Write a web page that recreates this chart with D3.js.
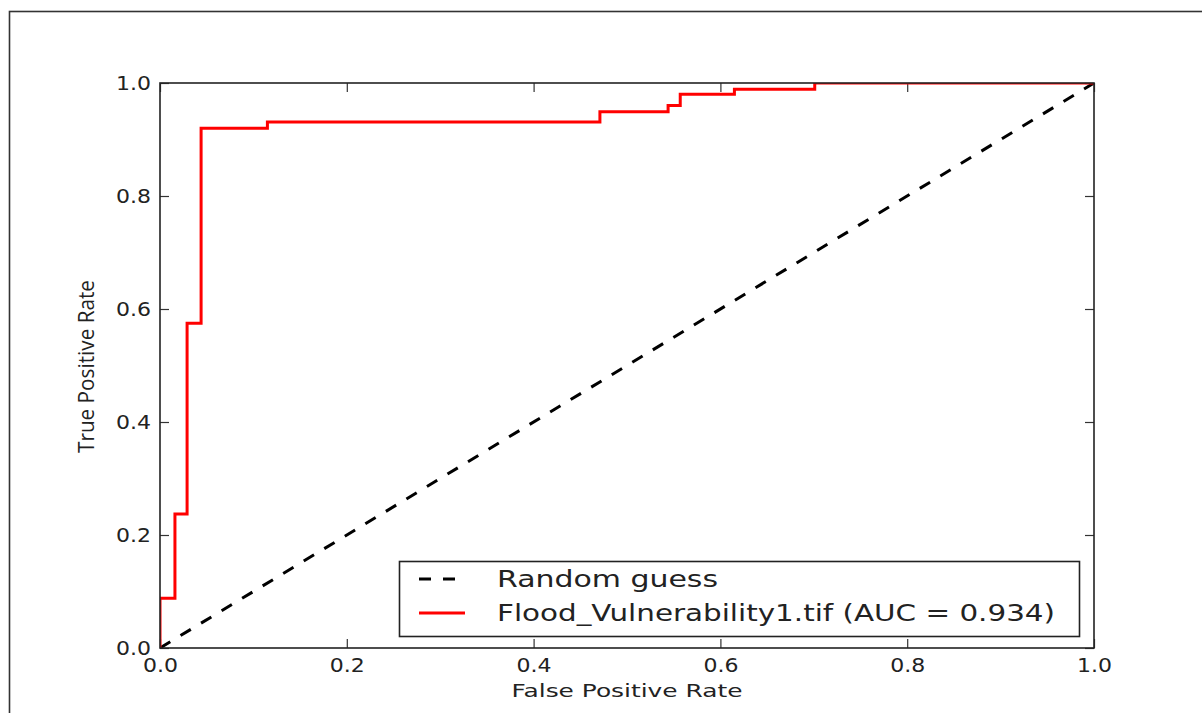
<!DOCTYPE html>
<html>
<head>
<meta charset="utf-8">
<script src="https://cdn.jsdelivr.net/npm/d3@7"></script>
<style>
  html, body { margin: 0; padding: 0; background: #fff; }
  svg { display: block; }
</style>
</head>
<body>
<div id="chart"></div>
<script>
// ROC curve corner points
const fpr = [0, 0, 0.016, 0.016, 0.029, 0.029, 0.044, 0.044, 0.115, 0.115, 0.471, 0.471, 0.544, 0.544, 0.557, 0.557, 0.615, 0.615, 0.701, 0.701, 1.0];
const tpr = [0, 0.088, 0.088, 0.237, 0.237, 0.575, 0.575, 0.920, 0.920, 0.931, 0.931, 0.949, 0.949, 0.960, 0.960, 0.980, 0.980, 0.989, 0.989, 1.0, 1.0];
const guessX = [0, 1];
const guessY = [0, 1];
const ticks = [0, 0.2, 0.4, 0.6, 0.8, 1.0];
const legendLabels = ['Random guess', 'Flood_Vulnerability1.tif (AUC = 0.934)'];

const W = 1202, H = 713;
const margin = { top: 83, right: 108, bottom: 65, left: 160 };
const width = W - margin.left - margin.right;   // 934
const height = H - margin.top - margin.bottom;  // 565

const svg = d3.select('#chart').append('svg')
    .attr('width', W)
    .attr('height', H);

// outer frame of the figure
svg.append('rect')
    .attr('x', 9.5).attr('y', 11.5)
    .attr('width', W + 20).attr('height', H + 20)
    .attr('fill', 'none')
    .attr('stroke', '#333')
    .attr('stroke-width', 1.6);

const g = svg.append('g')
    .attr('transform', `translate(${margin.left},${margin.top})`);

const x = d3.scaleLinear().domain([0, 1]).range([0, width]);
const y = d3.scaleLinear().domain([0, 1]).range([height, 0]);

const fmt = d3.format('.1f');
const tickFont = '"DejaVu Sans", sans-serif';

// the source picture is a bit stretched sideways, so text gets a fixed length
const axisStyle = sel => {
    sel.select('.domain').remove();
    sel.selectAll('line').attr('stroke', '#333').attr('stroke-width', 1.2);
    sel.selectAll('text')
        .attr('fill', '#222')
        .attr('textLength', 35)
        .attr('lengthAdjust', 'spacingAndGlyphs')
        .style('font-family', tickFont)
        .style('font-size', '20px');
};

g.append('g')
    .attr('transform', `translate(0,${height})`)
    .call(d3.axisBottom(x).tickValues(ticks).tickFormat(fmt).tickSizeInner(-9).tickPadding(10))
    .call(axisStyle);

g.append('g')
    .call(d3.axisTop(x).tickValues(ticks).tickFormat('').tickSizeInner(-9))
    .call(axisStyle);

g.append('g')
    .call(d3.axisLeft(y).tickValues(ticks).tickFormat(fmt).tickSizeInner(-9).tickPadding(9))
    .call(axisStyle);

g.append('g')
    .attr('transform', `translate(${width},0)`)
    .call(d3.axisRight(y).tickValues(ticks).tickFormat('').tickSizeInner(-9))
    .call(axisStyle);

// clip lines to the plot area
g.append('clipPath').attr('id', 'clip')
    .append('rect').attr('x', 0).attr('y', 0).attr('width', width).attr('height', height);

const line = d3.line()
    .x(d => x(d[0]))
    .y(d => y(d[1]));

g.append('path')
    .datum(guessX.map((v, i) => [v, guessY[i]]))
    .attr('clip-path', 'url(#clip)')
    .attr('fill', 'none')
    .attr('stroke', '#000')
    .attr('stroke-width', 3)
    .attr('stroke-dasharray', '12,12')
    .attr('d', line);

g.append('path')
    .datum(fpr.map((v, i) => [v, tpr[i]]))
    .attr('clip-path', 'url(#clip)')
    .attr('fill', 'none')
    .attr('stroke', '#ff0000')
    .attr('stroke-width', 3)
    .attr('stroke-linejoin', 'miter')
    .attr('d', line);

// plot frame
g.append('rect')
    .attr('x', 0).attr('y', 0)
    .attr('width', width).attr('height', height)
    .attr('fill', 'none')
    .attr('stroke', '#222')
    .attr('stroke-width', 1.6);

// axis labels
g.append('text')
    .attr('x', width / 2)
    .attr('y', height + 49)
    .attr('text-anchor', 'middle')
    .attr('fill', '#222')
    .attr('textLength', 231)
    .attr('lengthAdjust', 'spacingAndGlyphs')
    .style('font-family', tickFont)
    .style('font-size', '18px')
    .text('False Positive Rate');

svg.append('text')
    .attr('transform', `translate(94,${(280 + 453) / 2}) rotate(-90)`)
    .attr('text-anchor', 'middle')
    .attr('fill', '#222')
    .attr('textLength', 173)
    .attr('lengthAdjust', 'spacingAndGlyphs')
    .style('font-family', '"Open Sans", sans-serif')
    .style('font-size', '21px')
    .text('True Positive Rate');

// legend
const legend = svg.append('g');
legend.append('rect')
    .attr('x', 399.5).attr('y', 561.5)
    .attr('width', 680).attr('height', 75)
    .attr('fill', '#fff')
    .attr('stroke', '#222')
    .attr('stroke-width', 1.6);

const legendStyles = [
    { stroke: '#000', dash: '12,12', y: 579, len: 221 },
    { stroke: '#ff0000', dash: null, y: 613, len: 558 }
];
legendLabels.forEach((label, i) => {
    const s = legendStyles[i];
    legend.append('line')
        .attr('x1', 419).attr('x2', 465)
        .attr('y1', s.y).attr('y2', s.y)
        .attr('stroke', s.stroke)
        .attr('stroke-width', 3)
        .attr('stroke-dasharray', s.dash);
    legend.append('text')
        .attr('x', 497)
        .attr('y', s.y + 8)
        .attr('fill', '#222')
        .attr('textLength', s.len)
        .attr('lengthAdjust', 'spacingAndGlyphs')
        .style('font-family', tickFont)
        .style('font-size', '23px')
        .text(label);
});
</script>
</body>
</html>
